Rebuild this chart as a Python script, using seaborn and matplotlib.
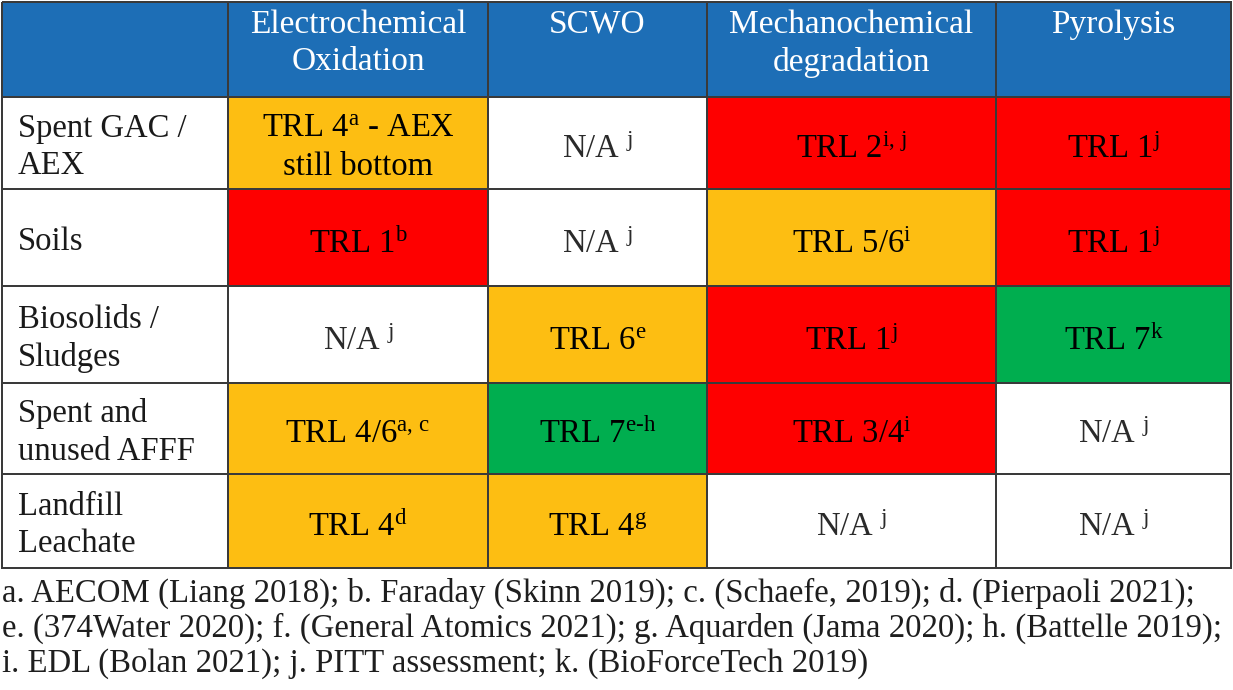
import numpy as np
import matplotlib
matplotlib.use("Agg")
import matplotlib.pyplot as plt
from matplotlib.colors import ListedColormap
import seaborn as sns

# ---------------- data ----------------
columns = ["Electrochemical\nOxidation", "SCWO", "Mechanochemical\ndegradation", "Pyrolysis"]
rows = ["Spent GAC /\nAEX", "Soils", "Biosolids /\nSludges", "Spent and\nunused AFFF", "Landfill\nLeachate"]

# status: 0 = N/A (white), 1 = low TRL (red), 2 = mid TRL (amber), 3 = high TRL (green)
status = [
    [2, 0, 1, 1],
    [1, 0, 2, 1],
    [0, 2, 1, 3],
    [2, 3, 1, 0],
    [2, 2, 0, 0],
]
cell_text = [
    ["TRL 4", "N/A ", "TRL 2", "TRL 1"],
    ["TRL 1", "N/A ", "TRL 5/6", "TRL 1"],
    ["N/A ", "TRL 6", "TRL 1", "TRL 7"],
    ["TRL 4/6", "TRL 7", "TRL 3/4", "N/A "],
    ["TRL 4", "TRL 4", "N/A ", "N/A "],
]
cell_sup = [
    ["a", "j", "i, j", "j"],
    ["b", "j", "i", "j"],
    ["j", "e", "j", "k"],
    ["a, c", "e-h", "i", "j"],
    ["d", "g", "j", "j"],
]
cell_extra = {(0, 0): " - AEX\nstill bottom"}

footnotes = [
    "a. AECOM (Liang 2018); b. Faraday (Skinn 2019); c. (Schaefe, 2019); d. (Pierpaoli 2021);",
    "e. (374Water 2020); f. (General Atomics 2021); g. Aquarden (Jama 2020); h. (Battelle 2019);",
    "i. EDL (Bolan 2021); j. PITT assessment; k. (BioForceTech 2019)",
]

status_colors = ["#FFFFFF", "#FE0000", "#FDBE12", "#00AE4F", "#1D6EB6"]

# ---------------- styling ----------------
sns.set_theme(style="white")
plt.rcParams["font.family"] = ["Liberation Serif", "DejaVu Serif"]
plt.rcParams["mathtext.fontset"] = "custom"
plt.rcParams["mathtext.rm"] = "Liberation Serif"
plt.rcParams["mathtext.it"] = "Liberation Serif:italic"

W, H = 1233, 690
fig = plt.figure(figsize=(W / 100, H / 100), dpi=100)
fig.patch.set_facecolor("white")

# pixel edges of the table grid
col_px = np.array([2, 228, 488, 707, 996, 1231], dtype=float)
row_px = np.array([2, 97, 189, 286, 383, 474, 568], dtype=float)

ax = fig.add_axes([col_px[0] / W, 1 - row_px[-1] / H,
                   (col_px[-1] - col_px[0]) / W, (row_px[-1] - row_px[0]) / H])


def make_scale(edges):
    idx = np.arange(len(edges), dtype=float)

    def fwd(v):
        v = np.asarray(v, dtype=float)
        out = np.interp(v, idx, edges)
        out = np.where(v < 0, edges[0] + v * (edges[1] - edges[0]), out)
        out = np.where(v > idx[-1], edges[-1] + (v - idx[-1]) * (edges[-1] - edges[-2]), out)
        return out

    def inv(p):
        p = np.asarray(p, dtype=float)
        out = np.interp(p, edges, idx)
        out = np.where(p < edges[0], (p - edges[0]) / (edges[1] - edges[0]), out)
        out = np.where(p > edges[-1], idx[-1] + (p - edges[-1]) / (edges[-1] - edges[-2]), out)
        return out

    return fwd, inv


ax.set_xscale("function", functions=make_scale(col_px))
ax.set_yscale("function", functions=make_scale(row_px))

nr, nc = len(rows), len(columns)
codes = np.zeros((nr + 1, nc + 1))
codes[0, :] = 4
for i in range(nr):
    for j in range(nc):
        codes[i + 1, j + 1] = status[i][j]

cmap = ListedColormap(status_colors)
sns.heatmap(codes, cmap=cmap, vmin=-0.5, vmax=4.5, cbar=False,
            linewidths=1.2, linecolor="#3A3A3A", xticklabels=False,
            yticklabels=False, ax=ax)
ax.set_xlim(0, nc + 1)
ax.set_ylim(nr + 1, 0)
for c in ax.collections:
    c.set_clip_on(False)
for s in ax.spines.values():
    s.set_visible(False)

# header texts
for j, name in enumerate(columns):
    ax.text(j + 1.5, 0.075, name, ha="center", va="top", color="white",
            fontsize=24, linespacing=1.3)

# row labels
for i, name in enumerate(rows):
    ax.text(0.07, i + 1.545, name, ha="left", va="center", color="#1A1A1A",
            fontsize=23.5, linespacing=1.3)


def sup_math(s):
    s = s.replace(", ", r",\,").replace("-", r"\text{-}")
    return r"$^{\mathregular{" + s + "}}$"


# cell texts
for i in range(nr):
    for j in range(nc):
        label = cell_text[i][j] + sup_math(cell_sup[i][j])
        col = "#2A2A2A" if status[i][j] == 0 else "black"
        if (i, j) in cell_extra:
            label = label + cell_extra[(i, j)]
            ax.text(j + 1.5, i + 1.55, label, ha="center", va="center",
                    color=col, fontsize=23.5, linespacing=1.3)
        else:
            ax.text(j + 1.5, i + 1.66, label, ha="center", va="baseline",
                    color=col, fontsize=23.5)

# footnotes
for k, line in enumerate(footnotes):
    fig.text(2 / W, 1 - (593 + 35.5 * k) / H, line, ha="left", va="center",
             color="#1E1E1E", fontsize=23.6)

fig.savefig("out.png", dpi=100)
